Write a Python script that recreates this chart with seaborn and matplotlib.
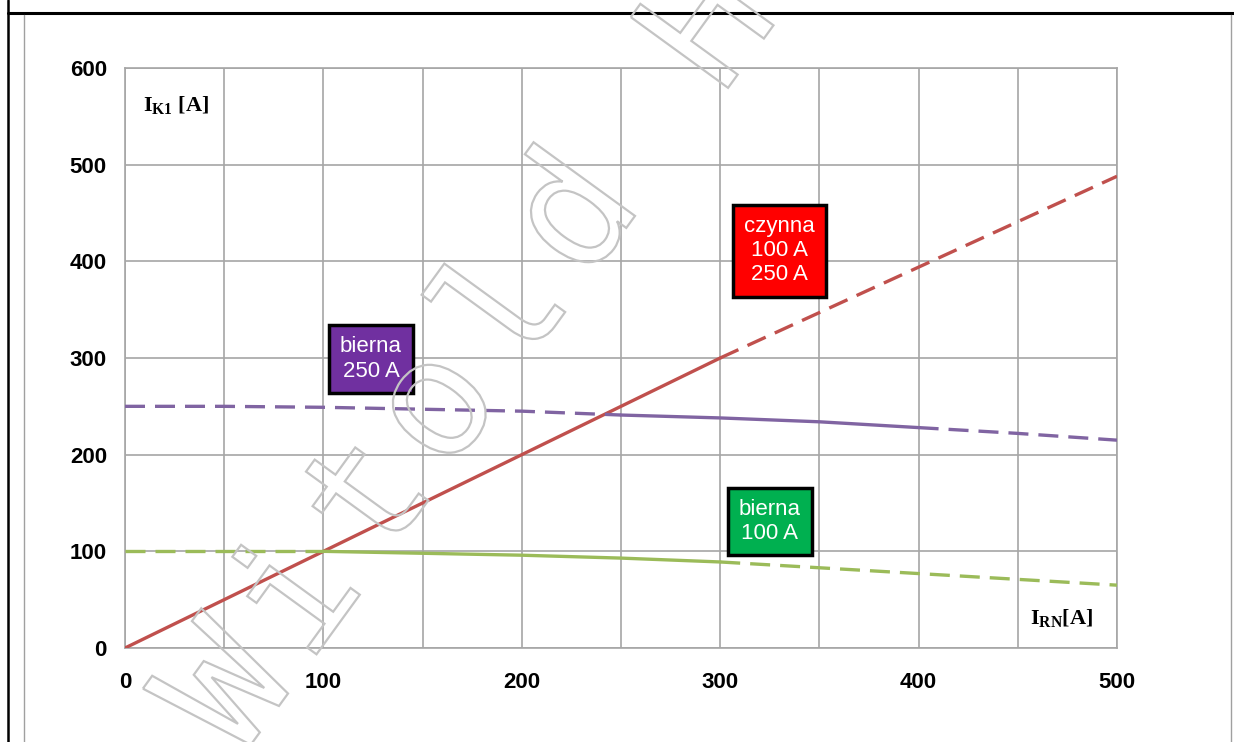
import numpy as np
import pandas as pd
import seaborn as sns
import matplotlib.pyplot as plt
import matplotlib.transforms as mtransforms
from matplotlib.textpath import TextPath
from matplotlib.patches import PathPatch
from matplotlib.font_manager import FontProperties
from matplotlib.lines import Line2D
from matplotlib.ticker import MultipleLocator

# values
x_rn = [0, 50, 100, 150, 200, 250, 300, 350, 400, 450, 500]
czynna = [0, 50, 100, 150, 200, 250, 300, 347, 394, 441, 488]
bierna_250 = [250, 250, 249, 247, 245, 241, 238, 234, 228, 222, 215]
bierna_100 = [100, 100, 100, 98, 96, 93, 89, 83, 77, 71, 65]

series_names = ['czynna', 'bierna_250', 'bierna_100']
series_vals = [czynna, bierna_250, bierna_100]
solid_start = [0, 250, 100]
solid_end = [300, 400, 300]
colors = ['#c0504d', '#8064a2', '#9bbb59']

box_texts = ['czynna\n100 A\n250 A', 'bierna\n250 A', 'bierna\n100 A']
box_x = [330, 124, 325]
box_y = [411, 299, 131]
box_colors = ['#ff0000', '#7030a0', '#00b050']

x_ticks = [0, 100, 200, 300, 400, 500]
y_ticks = [0, 100, 200, 300, 400, 500, 600]

# long table, one unit per line segment
rows = []
for name, vals, s0, s1 in zip(series_names, series_vals, solid_start, solid_end):
    for x, y in zip(x_rn, vals):
        parts = []
        if x <= s0:
            parts.append(('dashed', 0))
        if s0 <= x <= s1:
            parts.append(('solid', 1))
        if x >= s1:
            parts.append(('dashed', 2))
        for kind, k in parts:
            rows.append({'x': x, 'y': y, 'series': name, 'kind': kind,
                         'seg': f'{name}_{k}'})
df = pd.DataFrame(rows)

sns.set_style('white')
plt.rcParams['font.family'] = ['Liberation Sans', 'DejaVu Sans']
plt.rcParams['mathtext.fontset'] = 'custom'
plt.rcParams['mathtext.bf'] = 'Liberation Serif:bold'
plt.rcParams['mathtext.rm'] = 'Liberation Serif'

fig = plt.figure(figsize=(12.34, 7.42), dpi=100)
ax = fig.add_axes([125 / 1234, 94 / 742, 992 / 1234, 580 / 742])

grid_c = '#a6a6a6'
ax.set_xlim(0, 500)
ax.set_ylim(0, 600)
ax.xaxis.set_minor_locator(MultipleLocator(50))
ax.grid(True, which='both', axis='x', color=grid_c, lw=1.2)
ax.grid(True, which='major', axis='y', color=grid_c, lw=1.2)
ax.set_axisbelow(True)
for sp in ax.spines.values():
    sp.set_color(grid_c)
    sp.set_linewidth(1.2)

sns.lineplot(data=df, x='x', y='y', hue='series', style='kind', units='seg',
             estimator=None, palette=dict(zip(series_names, colors)),
             dashes={'solid': '', 'dashed': (6, 3)}, lw=2.4, legend=False,
             ax=ax, zorder=3)
ax.set_xlabel('')
ax.set_ylabel('')
ax.set_xticks(x_ticks)
ax.set_xticklabels([str(v) for v in x_ticks], fontweight='bold')
ax.set_yticks(y_ticks)
ax.set_yticklabels([str(v) for v in y_ticks], fontweight='bold')
ax.tick_params(axis='both', which='both', direction='out', length=6,
               width=1.2, color=grid_c, labelsize=16, labelcolor='black')
ax.tick_params(axis='x', pad=11)
ax.tick_params(axis='y', pad=7)

for t, x, y, c in zip(box_texts, box_x, box_y, box_colors):
    ax.text(x, y, t, ha='center', va='center', color='white', fontsize=16,
            linespacing=1.2, zorder=5,
            bbox=dict(boxstyle='square,pad=0.5', fc=c, ec='black', lw=2.5))

ax.text(9, 562, r'$\mathbf{I_{K1}}$ [A]', fontsize=16, fontweight='bold',
        family='Liberation Serif', color='black', ha='left', va='center')
ax.text(456, 31, r'$\mathbf{I_{RN}}$[A]', fontsize=16, fontweight='bold',
        family='Liberation Serif', color='black', ha='left', va='center')

# watermark, outlined letters along a diagonal
px = mtransforms.Affine2D().scale(1 / 100) + fig.dpi_scale_trans
wm_font = FontProperties(family='DejaVu Sans Mono')
ang = np.deg2rad(54)
size = 165
for i, ch in enumerate('Witold H'):
    if ch == ' ':
        continue
    tp = TextPath((0, 0), ch, size=size, prop=wm_font)
    ext = tp.get_extents()
    cx = 232 + i * 117 * np.cos(ang)
    cy = (742 - 692) + i * 117 * np.sin(ang)
    tr = (mtransforms.Affine2D()
          .translate(-(ext.x0 + ext.x1) / 2, -0.28 * size)
          .rotate_deg(54).translate(cx, cy))
    fig.add_artist(PathPatch(tp, transform=tr + px, fc='none',
                             ec='#c4c4c4', lw=1.6, zorder=10))

# page frame
fig.add_artist(Line2D([8 / 1234, 1], [1 - 13 / 742] * 2, color='black',
                      lw=2.2, transform=fig.transFigure))
fig.add_artist(Line2D([8 / 1234] * 2, [0, 1], color='black', lw=1.8,
                      transform=fig.transFigure))
fig.add_artist(Line2D([24 / 1234] * 2, [0, 1 - 15 / 742], color='#a0a0a0',
                      lw=1, transform=fig.transFigure))
fig.add_artist(Line2D([1231 / 1234] * 2, [0, 1 - 15 / 742], color='#a0a0a0',
                      lw=1, transform=fig.transFigure))

fig.savefig('out.png', dpi=100)
